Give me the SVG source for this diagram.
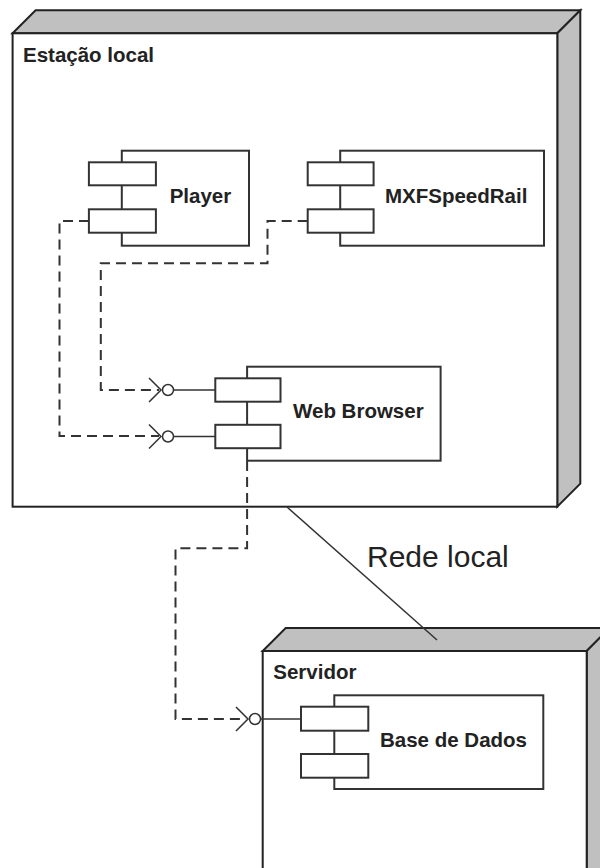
<svg xmlns="http://www.w3.org/2000/svg" xmlns:xlink="http://www.w3.org/1999/xlink" width="600" height="868" viewBox="0 0 600 868">
<style>
.front{fill:#ffffff;stroke:#222;stroke-width:2;stroke-linejoin:miter}
.side{fill:#c0c0c0;stroke:#222;stroke-width:2;stroke-linejoin:miter}
.comp{fill:#ffffff;stroke:#333;stroke-width:2}
.port{fill:#ffffff;stroke:#333;stroke-width:2}
.nlabel{font-family:"Liberation Sans",Arial,sans-serif;font-weight:bold;font-size:20.5px;fill:#222}
.clabel{font-family:"Liberation Sans",Arial,sans-serif;font-weight:bold;font-size:20.5px;fill:#222}
.elabel{font-family:"Liberation Sans",Arial,sans-serif;font-size:30px;fill:#222}
.dep{fill:none;stroke:#333;stroke-width:2;stroke-dasharray:10 6}
.assoc{fill:none;stroke:#333;stroke-width:1.5}
.lol{fill:none;stroke:#333;stroke-width:1.5}
</style>
<defs>
<g id="lollipop">
<path class="lol" d="M-12,-12 L0,0 L-12,12"/>
<line class="lol" x1="12.5" y1="0" x2="54" y2="0"/>
<circle cx="7" cy="0" r="5.5" fill="#ffffff" stroke="#333" stroke-width="1.5"/>
</g>
</defs>

<g id="node-estacao">
<polygon class="side" points="12.6,33.3 35.6,10.3 580.3,10.3 557.3,33.3"/>
<polygon class="side" points="557.3,33.3 580.3,10.3 580.3,483.7 557.3,506.7"/>
<rect class="front" x="12.6" y="33.3" width="544.7" height="473.4"/>
<text class="nlabel" x="23" y="62">Estação local</text>
</g>

<g id="node-servidor">
<polygon class="side" points="262.7,651 285.7,628 609.7,628 586.7,651"/>
<polygon class="side" points="586.7,651 609.7,628 609.7,900 586.7,900"/>
<rect class="front" x="262.7" y="651" width="324" height="240"/>
<text class="nlabel" x="273.3" y="679.3">Servidor</text>
</g>

<g id="connectors">
<path class="dep" d="M89,221 H59.5 V436 H159"/>
<path class="dep" d="M307.7,221 H267.5 V263.3 H100.8 V390 H159"/>
<path class="dep" d="M247.1,461 V548.3 H175.5 V719 H246"/>
<line class="assoc" x1="287" y1="507" x2="437" y2="640"/>
<text class="elabel" x="367" y="567.3">Rede local</text>
</g>

<g id="comp-player">
<rect class="comp" x="121.8" y="150.7" width="127.2" height="95"/>
<rect class="port" x="88.9" y="162.3" width="67" height="23"/>
<rect class="port" x="88.9" y="209.3" width="67" height="23.4"/>
<text class="clabel" x="169.7" y="203.3">Player</text>
</g>

<g id="comp-mxf">
<rect class="comp" x="340.2" y="150.7" width="203.8" height="95"/>
<rect class="port" x="307.7" y="162.3" width="65.9" height="23"/>
<rect class="port" x="307.7" y="209.3" width="65.9" height="23.4"/>
<text class="clabel" x="385" y="203.3">MXFSpeedRail</text>
</g>

<g id="comp-webbrowser">
<use xlink:href="#lollipop" href="#lollipop" x="161" y="390"/>
<use xlink:href="#lollipop" href="#lollipop" x="161" y="436.5"/>
<rect class="comp" x="247.1" y="366.7" width="193.5" height="94"/>
<rect class="port" x="215.3" y="378.3" width="65.2" height="23.4"/>
<rect class="port" x="215.3" y="424.8" width="65.2" height="23.4"/>
<text class="clabel" x="293" y="418.3">Web Browser</text>
</g>

<g id="comp-basedados">
<use xlink:href="#lollipop" href="#lollipop" x="248" y="719"/>
<rect class="comp" x="334.3" y="695.3" width="209" height="93.7"/>
<rect class="port" x="301" y="706.7" width="67.3" height="24"/>
<rect class="port" x="301" y="754" width="67.3" height="23.7"/>
<text class="clabel" x="380" y="746.7">Base de Dados</text>
</g>
</svg>
